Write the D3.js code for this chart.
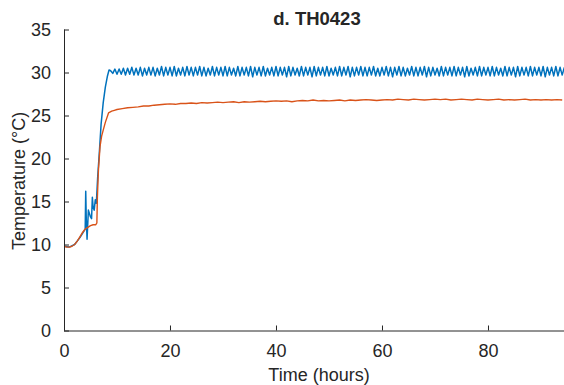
<!DOCTYPE html>
<html>
<head>
<meta charset="utf-8">
<script src="https://cdn.jsdelivr.net/npm/d3@7"></script>
<style>
  body { margin: 0; background: #fff; }
  svg { display: block; }
  text { font-family: "Liberation Sans", Arial, sans-serif; fill: #262626; }
</style>
</head>
<body>
<svg id="chart" width="564" height="385"></svg>
<script>
// ---------------- DATA ----------------
const title = "d. TH0423";
const xLabel = "Time (hours)";
const yLabel = "Temperature (°C)";
const xTicks = [0, 20, 40, 60, 80];
const yTicks = [0, 5, 10, 15, 20, 25, 30, 35];

// Blue series: warm-up phase (hours, °C)
const blueEarlyT = [0, 1, 2, 3, 3.5, 4.0, 4.1, 4.2, 4.35, 4.6, 5.0, 5.2, 5.35, 5.5, 5.7, 5.9, 6.1, 6.35, 6.7, 7.0, 7.4, 7.8, 8.2, 8.5];
const blueEarlyV = [9.8, 9.7, 10.0, 10.8, 11.3, 11.8, 16.2, 13.0, 10.6, 14.0, 13.2, 13.0, 15.5, 14.3, 14.0, 15.2, 14.8, 17.8, 21.0, 24.0, 26.5, 28.3, 29.6, 30.3];
// Blue series: steady phase, sampled every 0.4 h from 8.8 h
const blueSteadyStart = 8.8;
const blueSteadyStep = 0.4;
const blueSteadyV = [
  30.2,29.9,30.4,29.8,30.4,29.8,30.5,29.7,30.5,29.8,30.6,29.7,30.5,29.7,30.6,29.6,30.5,29.7,30.6,29.7,
  30.6,29.6,30.5,29.7,30.7,29.6,30.6,29.7,30.6,29.6,30.7,29.6,30.5,29.7,30.6,29.6,30.7,29.7,30.6,29.6,
  30.6,29.7,30.7,29.6,30.6,29.6,30.5,29.7,30.7,29.6,30.6,29.7,30.6,29.6,30.7,29.6,30.6,29.7,30.5,29.6,
  30.7,29.6,30.6,29.7,30.6,29.6,30.7,29.5,30.6,29.7,30.6,29.6,30.7,29.6,30.5,29.7,30.6,29.6,30.7,29.6,
  30.6,29.7,30.6,29.5,30.7,29.6,30.6,29.7,30.5,29.6,30.7,29.6,30.6,29.7,30.6,29.5,30.7,29.6,30.6,29.7,
  30.6,29.6,30.7,29.6,30.5,29.7,30.6,29.6,30.7,29.6,30.6,29.7,30.7,29.5,30.6,29.6,30.6,29.7,30.7,29.6,
  30.6,29.6,30.6,29.7,30.7,29.6,30.5,29.6,30.6,29.7,30.7,29.6,30.6,29.5,30.6,29.7,30.7,29.6,30.6,29.6,
  30.5,29.7,30.7,29.6,30.6,29.6,30.6,29.7,30.7,29.5,30.6,29.6,30.6,29.7,30.5,29.6,30.7,29.6,30.6,29.7,
  30.6,29.6,30.7,29.6,30.6,29.7,30.6,29.5,30.7,29.6,30.5,29.7,30.6,29.6,30.7,29.6,30.6,29.7,30.6,29.6,
  30.7,29.6,30.6,29.7,30.5,29.6,30.7,29.6,30.6,29.7,30.6,29.5,30.7,29.6,30.6,29.7,30.6,29.6,30.7,29.6,
  30.6,29.7,30.6,29.6,30.7,29.5,30.6,29.7,30.6,29.6,30.7,29.6,30.6,29.7,30.6
];

// Orange series: warm-up phase (hours, °C)
const orangeEarlyT = [0, 0.5, 1, 1.5, 2, 2.5, 3, 3.5, 4, 4.5, 5, 5.5, 6, 6.2, 6.3, 6.5, 6.8, 7.1, 7.4, 7.8, 8.4, 9.0, 9.5];
const orangeEarlyV = [9.8, 9.7, 9.7, 9.8, 10.0, 10.4, 10.9, 11.4, 11.8, 12.0, 12.2, 12.3, 12.3, 12.5, 15.5, 18.7, 21.4, 22.6, 23.3, 24.2, 25.3, 25.5, 25.6];
// Orange series: steady phase, sampled every 1 h from 10 h
const orangeSteadyStart = 10;
const orangeSteadyStep = 1;
const orangeSteadyV = [
  25.7,25.8,25.9,25.95,26.0,26.1,26.1,26.2,26.25,26.3,
  26.35,26.3,26.4,26.4,26.45,26.4,26.5,26.45,26.5,26.55,
  26.5,26.55,26.6,26.5,26.6,26.55,26.6,26.65,26.6,26.65,
  26.7,26.65,26.7,26.6,26.7,26.75,26.7,26.8,26.7,26.75,
  26.7,26.75,26.8,26.7,26.8,26.75,26.8,26.85,26.8,26.75,
  26.8,26.85,26.8,26.9,26.85,26.8,26.9,26.85,26.8,26.85,
  26.9,26.85,26.9,26.8,26.85,26.9,26.85,26.8,26.9,26.85,
  26.8,26.85,26.9,26.8,26.85,26.8,26.85,26.9,26.8,26.85,
  26.8,26.85,26.8,26.85,26.8
];

// ---------------- CHART ----------------
const svg = d3.select("#chart");
const plot = { left: 64, right: 564, top: 29.5, bottom: 330.5 };

const x = d3.scaleLinear().domain([0, 94.34]).range([plot.left, plot.right]);
const y = d3.scaleLinear().domain([0, 35]).range([plot.bottom, plot.top]);

function buildSeries(earlyT, earlyV, start, step, steadyV) {
  const pts = earlyT.map((t, i) => [t, earlyV[i]]);
  steadyV.forEach((v, i) => pts.push([start + i * step, v]));
  return pts;
}
const blue = buildSeries(blueEarlyT, blueEarlyV, blueSteadyStart, blueSteadyStep, blueSteadyV);
const orange = buildSeries(orangeEarlyT, orangeEarlyV, orangeSteadyStart, orangeSteadyStep, orangeSteadyV);

svg.append("defs").append("clipPath").attr("id", "clip")
  .append("rect")
  .attr("x", plot.left).attr("y", plot.top - 5)
  .attr("width", plot.right - plot.left).attr("height", plot.bottom - plot.top + 5);

const line = d3.line().x(d => x(d[0])).y(d => y(d[1]));
const lines = svg.append("g").attr("clip-path", "url(#clip)");
lines.append("path").datum(blue)
  .attr("fill", "none").attr("stroke", "#0072BD").attr("stroke-width", 1.5)
  .attr("stroke-linejoin", "round").attr("d", line);
lines.append("path").datum(orange)
  .attr("fill", "none").attr("stroke", "#D95319").attr("stroke-width", 1.4)
  .attr("stroke-linejoin", "round").attr("d", line);

// Axes (ticks pointing inward)
const xAxis = d3.axisBottom(x).tickValues(xTicks).tickSizeInner(-5).tickSizeOuter(0).tickPadding(14);
const yAxis = d3.axisLeft(y).tickValues(yTicks).tickSizeInner(-5).tickSizeOuter(0).tickPadding(13);

const gx = svg.append("g").attr("transform", `translate(0,${plot.bottom})`).call(xAxis);
const gy = svg.append("g").attr("transform", `translate(${plot.left},0)`).call(yAxis);

[gx, gy].forEach(g => {
  g.select(".domain").attr("stroke", "#262626").attr("stroke-width", 1);
  g.selectAll(".tick line").attr("stroke", "#262626").attr("stroke-width", 1);
  g.selectAll(".tick text").attr("fill", "#262626")
    .style("font-family", '"Liberation Sans", Arial, sans-serif')
    .style("font-size", "18px");
});
// Extend the domain so it spans the full plot box
gx.select(".domain").attr("d", `M${plot.left},0.5H${plot.right}`);
gy.select(".domain").attr("d", `M0.5,${plot.bottom}V${plot.top}`);

// Title
svg.append("text")
  .attr("x", (plot.left + plot.right) / 2 + 3).attr("y", 25)
  .attr("text-anchor", "middle")
  .style("font-size", "18.5px").style("font-weight", "bold")
  .text(title);

// Axis labels
svg.append("text")
  .attr("x", (plot.left + plot.right) / 2 + 5).attr("y", 381)
  .attr("text-anchor", "middle")
  .style("font-size", "18px")
  .text(xLabel);

svg.append("text")
  .attr("transform", `translate(25,181) rotate(-90)`)
  .attr("text-anchor", "middle")
  .style("font-size", "18px")
  .text(yLabel);
</script>
</body>
</html>
